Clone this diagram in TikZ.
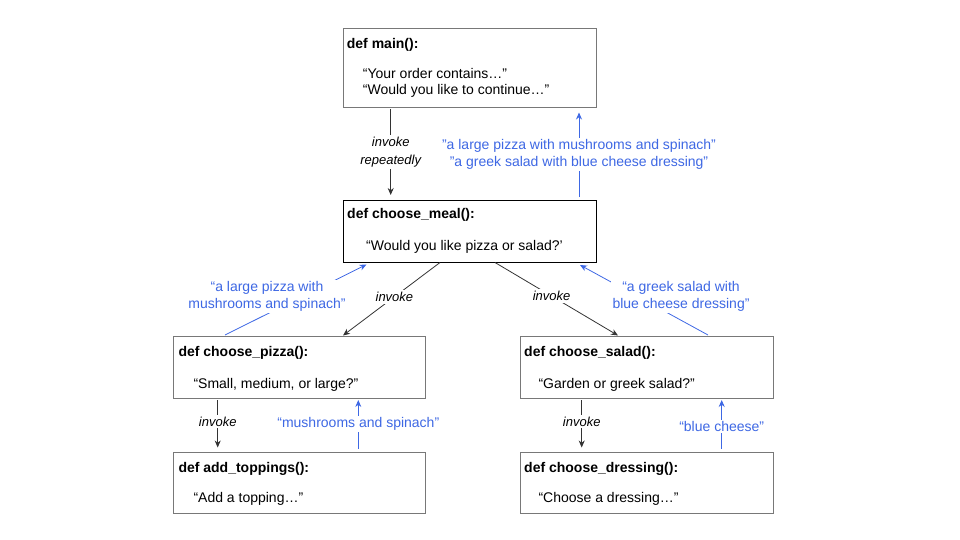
\documentclass[tikz,border=0pt]{standalone}
\usepackage{fontspec}
\setmainfont{Liberation Sans}
\usetikzlibrary{calc,arrows.meta}
\definecolor{lblue}{RGB}{62,104,228}
\definecolor{boxgray}{RGB}{120,120,120}
\tikzset{
  fbox/.style={draw=boxgray, line width=0.9pt, inner sep=0pt, outer sep=0pt, minimum width=252pt},
  ttl/.style={anchor=base west, inner sep=0pt, font=\fontsize{14}{17}\selectfont\bfseries},
  qt/.style={anchor=base west, inner sep=0pt, font=\fontsize{14}{17}\selectfont},
  blk/.style={draw=black!80, line width=0.8pt, -{Stealth[length=7pt,width=6pt]}},
  blu/.style={draw=lblue, line width=0.8pt, -{Stealth[length=7pt,width=6pt]}},
  inv/.style={fill=white, inner sep=2pt, font=\fontsize{13}{17.5}\selectfont\itshape, align=center},
  bl/.style={fill=white, inner sep=1.5pt, text=lblue, font=\fontsize{14}{17}\selectfont, align=center}
}
\begin{document}
\begin{tikzpicture}[x=1pt,y=-1pt]
\useasboundingbox (0,0) rectangle (960,540);

% boxes
\node[fbox, minimum width=253pt, minimum height=79pt] (main) at (469.5,68) {};
\node[fbox, draw=black, minimum width=253pt, minimum height=62pt] (meal) at (469.5,231) {};
\node[fbox, minimum height=62pt] (pizza) at (299.5,367.5) {};
\node[fbox, minimum height=61pt] (top) at (299.5,483) {};
\node[fbox, minimum width=253pt, minimum height=62pt] (salad) at (646.5,367.5) {};
\node[fbox, minimum width=253pt, minimum height=61pt] (dress) at (646.5,483) {};

% texts
\node[ttl] (t1) at (346.7,49) {def main():};
\node[qt] (q1a) at (362.7,79) {“Your order contains…”};
\node[qt] (q1b) at (362.7,95) {“Would you like to continue…”};
\node[ttl] (t2) at (347,218) {def choose\_meal():};
\node[qt] (q2) at (366,250) {“Would you like pizza or salad?’};
\node[ttl] (t3) at (178.3,356) {def choose\_pizza():};
\node[qt] (q3) at (193.3,388.5) {“Small, medium, or large?”};
\node[ttl] (t4) at (178.3,472) {def add\_toppings():};
\node[qt] (q4) at (193.3,502) {“Add a topping…”};
\node[ttl] (t5) at (524,356) {def choose\_salad():};
\node[qt] (q5) at (538.3,388.5) {“Garden or greek salad?”};
\node[ttl] (t6) at (524,472) {def choose\_dressing():};
\node[qt] (q6) at (538.3,502) {“Choose a dressing…”};

% connectors
\draw[blk] ($(main.south west)+(47.7,1.5)$) -- node[inv]{invoke\\repeatedly} ($(meal.north west)+(47.7,-5)$);
\draw[blu] ($(meal.north west)+(236,-3)$) -- node[bl]{"a large pizza with mushrooms and spinach"\\"a greek salad with blue cheese dressing"} ($(main.south west)+(236,5)$);

\draw[blk] ($(meal.south west)+(97,0.5)$) -- node[inv, pos=0.47]{invoke} ($(pizza.north east)+(-82.5,-1)$);
\draw[blk] ($(meal.south west)+(152,0.5)$) -- node[inv, pos=0.46]{invoke} ($(salad.north west)+(98,-1)$);

\draw[blu] ($(pizza.north west)+(51.5,-1.5)$) -- ($(meal.south west)+(23.5,2.5)$);
\node[bl] (lp) at (267,296.5) {“a large pizza with\\mushrooms and spinach”};
\draw[blu] ($(salad.north west)+(188,-1.5)$) -- ($(meal.south west)+(237,3)$);
\node[bl] (ls) at (681,296.5) {“a greek salad with\\blue cheese dressing”};

\draw[blk] ($(pizza.south west)+(44.2,1.7)$) -- node[inv, pos=0.45]{invoke} ($(top.north west)+(44.2,-5)$);
\draw[blu] ($(top.north west)+(184.8,-4)$) -- node[bl]{“mushrooms and spinach”} ($(pizza.south west)+(184.8,1.5)$);

\draw[blk] ($(salad.south west)+(61.7,1.7)$) -- node[inv, pos=0.45]{invoke} ($(dress.north west)+(61.7,-5)$);
\draw[blu] ($(dress.north west)+(201.7,-4)$) -- node[bl, pos=0.45]{“blue cheese”} ($(salad.south west)+(201.7,1.5)$);
\end{tikzpicture}
\end{document}
